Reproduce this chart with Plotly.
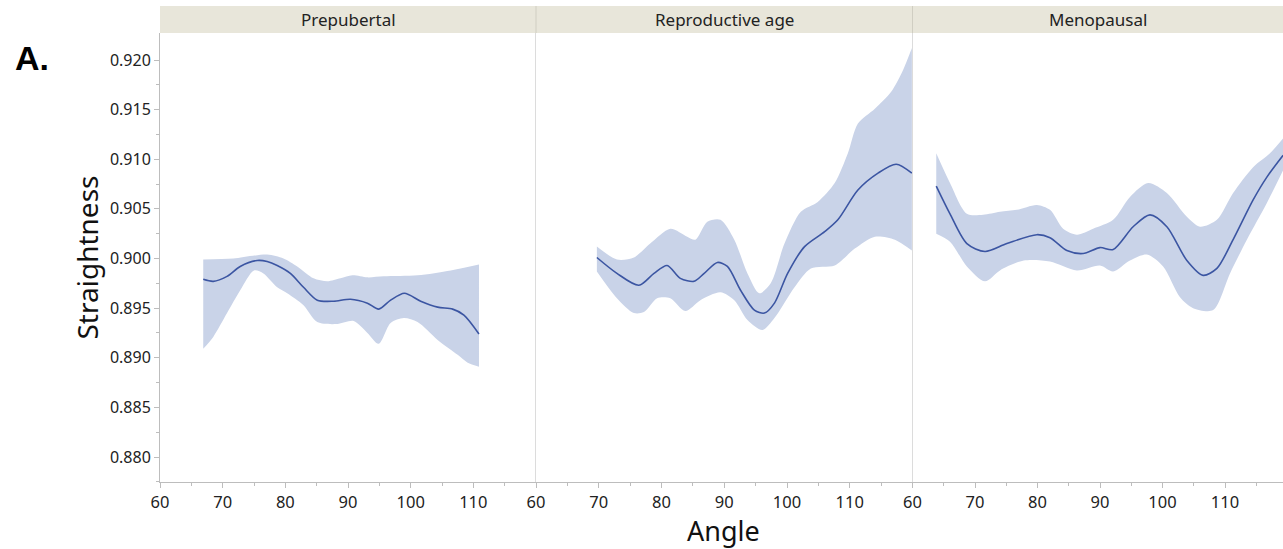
import plotly.graph_objects as go

# ---------------- data ----------------
panels = ["Prepubertal", "Reproductive age", "Menopausal"]

# Prepubertal
p1_mean_x = [66.9, 68.5, 70.7, 72.8, 75.5, 77.1, 78.7, 80.8, 82.9, 85.1, 87.7, 90.4, 93.1, 94.9, 96.8, 99.0, 101.6, 104.3, 106.7, 108.5, 110.9]
p1_mean_y = [0.8979, 0.8977, 0.8982, 0.8992, 0.8998, 0.8997, 0.8993, 0.8985, 0.8971, 0.8958, 0.8957, 0.8959, 0.8955, 0.8949, 0.8958, 0.8965, 0.8957, 0.8951, 0.8949, 0.8943, 0.8924]
p1_up_x = [66.9, 71.7, 77.1, 79.7, 81.9, 84.5, 86.7, 88.8, 90.7, 93.1, 95.7, 101.1, 106.4, 110.9]
p1_up_y = [0.8999, 0.9000, 0.9004, 0.9000, 0.8992, 0.8980, 0.8977, 0.8980, 0.8983, 0.8981, 0.8982, 0.8983, 0.8988, 0.8994]
p1_lo_x = [66.9, 68.5, 70.7, 72.8, 75.0, 76.5, 78.7, 80.3, 82.9, 85.1, 88.3, 90.9, 93.1, 94.9, 96.8, 98.9, 101.1, 104.3, 107.5, 109.1, 110.9]
p1_lo_y = [0.8909, 0.8921, 0.8945, 0.8968, 0.8988, 0.8985, 0.8971, 0.8965, 0.8953, 0.8936, 0.8934, 0.8937, 0.8925, 0.8914, 0.8935, 0.8940, 0.8936, 0.8918, 0.8903, 0.8895, 0.8891]

# Reproductive age
p2_mean_x = [69.7, 72.9, 76.4, 78.8, 80.9, 83.0, 85.2, 86.8, 88.9, 90.5, 92.6, 94.8, 96.4, 98.0, 100.1, 102.8, 106.0, 108.1, 111.3, 114.5, 117.4, 119.9]
p2_mean_y = [0.9001, 0.8985, 0.8973, 0.8985, 0.8993, 0.8980, 0.8977, 0.8985, 0.8996, 0.8992, 0.8968, 0.8948, 0.8945, 0.8955, 0.8985, 0.9012, 0.9027, 0.9039, 0.9069, 0.9086, 0.9095, 0.9086]
p2_up_x = [69.7, 72.9, 75.6, 78.2, 81.4, 84.1, 85.4, 87.3, 89.4, 91.6, 93.7, 95.6, 97.4, 99.6, 102.2, 104.9, 107.6, 109.7, 111.3, 114.0, 116.6, 118.5, 119.9]
p2_up_y = [0.9012, 0.8999, 0.9001, 0.9015, 0.9030, 0.9022, 0.9019, 0.9037, 0.9039, 0.9019, 0.8985, 0.8965, 0.8975, 0.9015, 0.9047, 0.9057, 0.9076, 0.9106, 0.9136, 0.9151, 0.9168, 0.9190, 0.9212]
p2_lo_x = [69.7, 72.9, 75.6, 77.2, 79.3, 81.4, 83.8, 86.2, 89.4, 91.6, 93.7, 96.1, 98.0, 101.2, 103.8, 107.6, 110.8, 114.0, 117.2, 119.9]
p2_lo_y = [0.8987, 0.8960, 0.8945, 0.8946, 0.8960, 0.8960, 0.8947, 0.8958, 0.8966, 0.8958, 0.8938, 0.8928, 0.8940, 0.8971, 0.8990, 0.8993, 0.9010, 0.9022, 0.9019, 0.9008]

# Menopausal
p3_mean_x = [63.8, 66.0, 68.7, 71.6, 75.1, 79.9, 82.0, 84.7, 87.3, 90.0, 92.1, 95.3, 98.0, 100.7, 103.9, 106.5, 108.7, 111.3, 114.5, 116.7, 119.3]
p3_mean_y = [0.9073, 0.9045, 0.9015, 0.9007, 0.9015, 0.9024, 0.9021, 0.9008, 0.9005, 0.9011, 0.9009, 0.9032, 0.9044, 0.9032, 0.8998, 0.8983, 0.8990, 0.9019, 0.9059, 0.9082, 0.9104]
p3_up_x = [63.8, 66.0, 68.7, 71.3, 74.0, 76.7, 79.9, 82.0, 84.1, 86.3, 88.9, 92.1, 94.8, 97.7, 100.7, 103.9, 106.0, 108.7, 111.3, 114.5, 117.2, 119.3]
p3_up_y = [0.9106, 0.9076, 0.9045, 0.9044, 0.9047, 0.9049, 0.9054, 0.9049, 0.9030, 0.9024, 0.9030, 0.9039, 0.9062, 0.9076, 0.9066, 0.9042, 0.9032, 0.9039, 0.9066, 0.9092, 0.9106, 0.9121]
p3_lo_x = [63.8, 66.0, 68.7, 71.6, 74.0, 77.8, 82.0, 86.3, 90.0, 92.1, 94.8, 97.5, 100.1, 102.8, 104.9, 108.1, 110.8, 113.5, 116.7, 119.3]
p3_lo_y = [0.9025, 0.9017, 0.8992, 0.8977, 0.8988, 0.8998, 0.8997, 0.8988, 0.8993, 0.8987, 0.8998, 0.9004, 0.8992, 0.8961, 0.8950, 0.8948, 0.8985, 0.9019, 0.9056, 0.9089]

y_ticks = [0.880, 0.885, 0.890, 0.895, 0.900, 0.905, 0.910, 0.915, 0.920]
x_ticks = [60, 70, 80, 90, 100, 110]

# ---------------- figure ----------------
W, H = 1283, 549
ML, MR, MT, MB = 160, 0, 33, 67
plot_w = W - ML - MR
plot_h = H - MT - MB
bounds_px = [160, 536, 912.5, 1283]
doms = [[(bounds_px[i] - ML) / plot_w, (bounds_px[i + 1] - ML) / plot_w] for i in range(3)]

LINE = "#3B55A2"
FILL = "rgba(201,211,232,1)"
FONT = "Noto Sans"
AX = "#BDBDBD"

fig = go.Figure()
data = [
    (p1_mean_x, p1_mean_y, p1_up_x, p1_up_y, p1_lo_x, p1_lo_y),
    (p2_mean_x, p2_mean_y, p2_up_x, p2_up_y, p2_lo_x, p2_lo_y),
    (p3_mean_x, p3_mean_y, p3_up_x, p3_up_y, p3_lo_x, p3_lo_y),
]
for i, (mx, my, ux, uy, lx, ly) in enumerate(data):
    xa = "x" if i == 0 else f"x{i+1}"
    ya = "y" if i == 0 else f"y{i+1}"
    fig.add_trace(go.Scatter(
        x=lx, y=ly, mode="lines", line=dict(width=0, color=FILL, shape="spline", smoothing=0.8),
        xaxis=xa, yaxis=ya, showlegend=False, hoverinfo="skip"))
    fig.add_trace(go.Scatter(
        x=ux, y=uy, mode="lines", fill="tonexty", fillcolor=FILL,
        line=dict(width=0, color=FILL, shape="spline", smoothing=0.8),
        xaxis=xa, yaxis=ya, showlegend=False, hoverinfo="skip"))
    fig.add_trace(go.Scatter(
        x=mx, y=my, mode="lines", line=dict(color=LINE, width=1.6, shape="spline", smoothing=0.8),
        xaxis=xa, yaxis=ya, showlegend=False))

yr = [0.880 - 25 / 9925, 0.920 + 27 / 9925]
xr = [[60, 120], [60, 120], [60, 60 + (bounds_px[3] - bounds_px[2]) / 6.25]]

layout = dict(
    width=W, height=H, margin=dict(l=ML, r=MR, t=MT, b=MB),
    paper_bgcolor="white", plot_bgcolor="white",
    font=dict(family=FONT, size=15, color="#222222"),
)
for i in range(3):
    k = "" if i == 0 else str(i + 1)
    layout[f"xaxis{k}"] = dict(
        domain=doms[i], range=xr[i], tickmode="array", tickvals=x_ticks,
        showgrid=False, zeroline=False, showline=True, linecolor=AX, linewidth=1,
        ticks="outside", ticklen=5, tickcolor=AX, anchor="y" if i == 0 else f"y{k}",
        tickfont=dict(family=FONT, size=16.5, color="#222222"),
        minor=dict(tickmode="array", tickvals=[65, 75, 85, 95, 105, 115], ticks="outside", ticklen=3, tickcolor=AX),
    )
    yd = dict(
        range=yr, showgrid=False, zeroline=False, anchor="x" if i == 0 else f"x{k}",
        showline=True, linecolor=AX if i == 0 else "#DCDCDC", linewidth=1,
    )
    if i == 0:
        yd.update(tickmode="array", tickvals=y_ticks, tickformat=".3f", ticks="outside",
                  ticklen=5, tickcolor=AX, tickfont=dict(family=FONT, size=16, color="#222222"),
                  minor=dict(tickmode="array", tickvals=[v + 0.0025 for v in y_ticks[:-1]] + [0.8775],
                             ticks="outside", ticklen=3, tickcolor=AX))
    else:
        yd.update(showticklabels=False, ticks="")
    layout[f"yaxis{k}"] = yd

fig.update_layout(**layout)

# header strips
hdr_top = 1 + (MT - 6) / plot_h
shapes = []
annots = []
for i in range(3):
    shapes.append(dict(type="rect", xref="paper", yref="paper", x0=doms[i][0], x1=doms[i][1],
                       y0=1, y1=hdr_top, fillcolor="#E8E6DA", line=dict(width=0), layer="below"))
    annots.append(dict(text=panels[i], xref="paper", yref="paper", x=(doms[i][0] + doms[i][1]) / 2,
                       y=(1 + hdr_top) / 2, showarrow=False, xanchor="center", yanchor="middle",
                       font=dict(family=FONT, size=17, color="#222222")))
for i in (1, 2):
    shapes.append(dict(type="line", xref="paper", yref="paper", x0=doms[i][0], x1=doms[i][0],
                       y0=1, y1=hdr_top, line=dict(color="#D0CEC2", width=1)))

annots.append(dict(text="Straightness", xref="paper", yref="paper", x=-(ML - 86) / plot_w, y=0.5,
                   textangle=-90, showarrow=False, xanchor="center", yanchor="middle",
                   font=dict(family=FONT, size=28, color="#111111")))
annots.append(dict(text="Angle", xref="paper", yref="paper", x=(723 - ML) / plot_w, y=-(530 - 482) / plot_h,
                   showarrow=False, xanchor="center", yanchor="middle",
                   font=dict(family=FONT, size=27, color="#111111")))
annots.append(dict(text="<b>A.</b>", xref="paper", yref="paper", x=-(ML - 32) / plot_w, y=1 - (58 - MT) / plot_h,
                   showarrow=False, xanchor="center", yanchor="middle",
                   font=dict(family="Liberation Sans", size=34, color="#000000")))
fig.update_layout(shapes=shapes, annotations=annots)

fig.write_html("out.html")
